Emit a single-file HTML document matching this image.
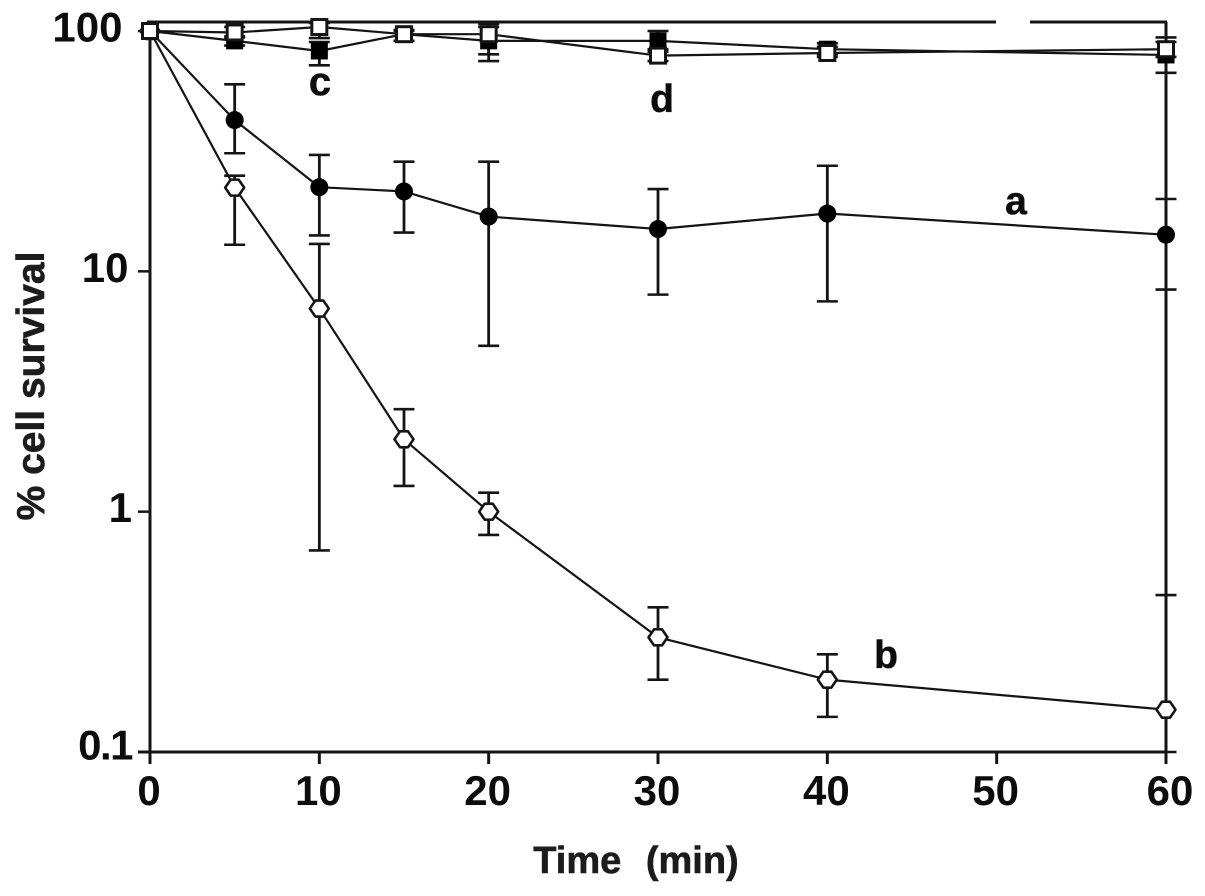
<!DOCTYPE html>
<html>
<head>
<meta charset="utf-8">
<title>Cell survival chart</title>
<style>
html,body{margin:0;padding:0;background:#fff;width:1205px;height:896px;overflow:hidden}
svg{display:block}
text{font-family:"Liberation Sans",Arial,sans-serif;font-weight:bold;fill:#0c0c0c}
.heavy{stroke:#1c1c1c;stroke-width:0.6px}
</style>
</head>
<body>
<svg id="chart" width="1205" height="896" viewBox="0 0 1205 896" xmlns="http://www.w3.org/2000/svg">
  <text class="heavy" x="0" y="0" font-size="39" text-anchor="middle" transform="translate(44,386) rotate(-90)" style="fill:#1c1c1c">% cell survival</text>
  <text class="heavy" x="636" y="873" font-size="38" text-anchor="middle" word-spacing="14" style="fill:#1c1c1c">Time (min)</text>
  <text class="heavy" x="1016" y="214" font-size="39" text-anchor="middle">a</text>
  <text class="heavy" x="886" y="668" font-size="39" text-anchor="middle">b</text>
  <text class="heavy" x="320" y="95" font-size="40" text-anchor="middle">c</text>
  <text class="heavy" x="662" y="112" font-size="39" text-anchor="middle">d</text>
</svg>
<script>
const times = [0, 5, 10, 15, 20, 30, 40, 60];
const xTicks = [0, 10, 20, 30, 40, 50, 60];
const yTicks = [0.1, 1, 10, 100];

const aValues = [100, 42.6, 22.4, 21.5, 16.9, 15, 17.4, 14.2];
const aHigh = [100, 60, 30.5, 28.6, 28.6, 22, 27.5, 20];
const aLow = [100, 31, 14.1, 14.5, 4.9, 8, 7.5, 8.4];

const bValues = [100, 22.3, 7, 2, 1, 0.3, 0.2, 0.15];
const bHigh = [100, 25, 13, 2.67, 1.2, 0.4, 0.255, 0.45];
const bLow = [100, 12.9, 0.69, 1.28, 0.8, 0.2, 0.14, 0.1];

const cValues = [100, 91, 82.6, 97, 91, 91, 84, 79.5];
const cHigh = [100, 95, 90, 100, 104, 100, 89, 94];
const cLow = [100, 87, 72, 91, 75, 82, 80, 67];

const dValues = [100, 98.6, 103.9, 97, 97, 79, 81, 84];
const dHigh = [100, 104, 108, 101, 107, 84, 86, 90];
const dLow = [100, 94, 93.5, 91, 80, 75, 78, 78];

const NS = 'http://www.w3.org/2000/svg';
const svg = document.getElementById('chart');
const ink = '#141414';

function xScale(t) { return 150 + (t / 60) * 1016; }
function yScale(v) { return 752 - (Math.log10(v) + 1) * 240.33; }

function make(tag, attrs) {
  const el = document.createElementNS(NS, tag);
  for (const k in attrs) el.setAttribute(k, attrs[k]);
  svg.appendChild(el);
  return el;
}

function line(x1, y1, x2, y2, w) {
  return make('line', { x1: x1, y1: y1, x2: x2, y2: y2, stroke: ink, 'stroke-width': w });
}

// Frame and axes
const leftAxis = line(150, 31, 150, 764, 3);


const bottomAxis = line(138, 752, 1166, 752, 3);


const topLeft = line(147, 22, 996, 22, 3);


const topRight = line(1030, 22, 1167, 22, 3);


const rightAxis = line(1166, 22, 1166, 764, 3);



// Ticks and tick labels
xTicks.forEach(function (t) {
  const x = xScale(t);
  const tick = line(x, 752, x, 764, 3);
  
  
  const label = make('text', { x: x + (t === 60 ? 4 : -1), y: 805, 'font-size': 42, 'text-anchor': 'middle' });
  label.textContent = String(t);
  
  
});
yTicks.forEach(function (v) {
  const y = yScale(v);
  const tick = line(138, y, 150, y, 2.5);
  
  
  const label = make('text', {
    x: v === 100 ? 122.5 : (v === 10 ? 128.5 : 132),
    y: y + (v === 0.1 ? 7.5 : 10.5),
    'font-size': 42,
    'text-anchor': 'end',
    'letter-spacing': v === 0.1 ? -1.5 : 0
  });
  label.textContent = String(v);
  
  
});

function drawBars(name, high, low) {
  times.forEach(function (t, i) {
    if (t === 0) return;
    const x = xScale(t);
    const stem = line(x, yScale(high[i]), x, yScale(low[i]), 2.8);
    
    
    const capTop = line(x - 10.5, yScale(high[i]), x + 10.5, yScale(high[i]), 2.6);
    
    
    const capLow = line(x - 10.5, yScale(low[i]), x + 10.5, yScale(low[i]), 2.6);
    
    
  });
}

function drawLine(name, values) {
  const pts = values.map(function (v, i) { return xScale(times[i]) + ',' + yScale(v); }).join(' ');
  const pl = make('polyline', { points: pts, fill: 'none', stroke: ink, 'stroke-width': 2.2 });
  
  
}

function drawMarker(name, kind, t, v) {
  const x = xScale(t), y = yScale(v);
  let m;
  if (kind === 'disc') {
    m = make('circle', { cx: x, cy: y, r: 9, fill: '#000' });
  } else if (kind === 'hex') {
    const pts = [[-9.5, 0], [-4, -8], [4, -8], [9.5, 0], [4, 8], [-4, 8]]
      .map(function (p) { return (x + p[0]) + ',' + (y + p[1]); }).join(' ');
    m = make('polygon', { points: pts, fill: '#fff', stroke: ink, 'stroke-width': 2.6, 'stroke-linejoin': 'round' });
  } else if (kind === 'solid') {
    m = make('rect', { x: x - 8.5, y: y - 8.5, width: 17, height: 17, fill: '#000' });
  } else {
    m = make('rect', { x: x - 7.5, y: y - 7.5, width: 15, height: 15, fill: '#fff', stroke: ink, 'stroke-width': 3 });
  }
  
  
}

drawBars('series-a', aHigh, aLow);
drawBars('series-b', bHigh, bLow);
drawBars('series-c', cHigh, cLow);
drawBars('series-d', dHigh, dLow);

drawLine('series-a', aValues);
drawLine('series-b', bValues);
drawLine('series-c', cValues);
drawLine('series-d', dValues);

times.forEach(function (t, i) { drawMarker('series-a', 'disc', t, aValues[i]); });
times.forEach(function (t, i) { drawMarker('series-b', 'hex', t, bValues[i]); });
times.forEach(function (t, i) { drawMarker('series-c', 'solid', t, cValues[i]); });
times.forEach(function (t, i) { drawMarker('series-d', 'open', t, dValues[i]); });
</script>
</body>
</html>
